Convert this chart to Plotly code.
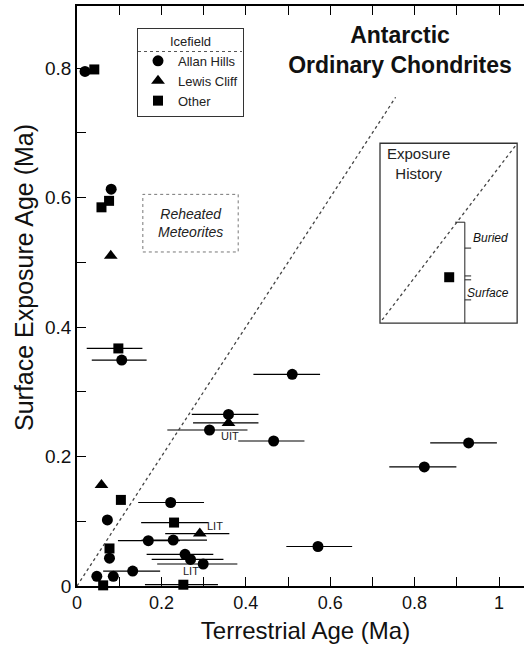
import plotly.graph_objects as go

# ---------------- data ----------------
allan_x = [0.019, 0.081, 0.106, 0.510, 0.359, 0.314, 0.466, 0.928, 0.823, 0.222, 0.072,
           0.169, 0.228, 0.077, 0.256, 0.269, 0.299, 0.047, 0.086, 0.132, 0.571]
allan_y = [0.795, 0.613, 0.349, 0.327, 0.265, 0.241, 0.224, 0.221, 0.184, 0.129, 0.102,
           0.070, 0.071, 0.043, 0.049, 0.041, 0.034, 0.015, 0.015, 0.023, 0.061]
allan_err_plus = [0, 0, 0.059, 0.066, 0.071, 0.090, 0.073, 0.067, 0.076, 0.079, 0,
                  0.075, 0.080, 0, 0.067, 0.078, 0.081, 0, 0, 0.065, 0.081]
allan_err_minus = [0, 0, 0.071, 0.092, 0.087, 0.100, 0.084, 0.091, 0.083, 0.077, 0,
                   0.072, 0.075, 0, 0.091, 0.092, 0.109, 0, 0, 0.070, 0.075]

lewis_x = [0.080, 0.359, 0.058, 0.291]
lewis_y = [0.510, 0.252, 0.156, 0.081]
lewis_err_plus = [0, 0.071, 0, 0.070]
lewis_err_minus = [0, 0.084, 0, 0.082]

other_x = [0.041, 0.076, 0.058, 0.098, 0.104, 0.230, 0.077, 0.062, 0.252]
other_y = [0.798, 0.595, 0.585, 0.367, 0.133, 0.098, 0.058, 0.001, 0.002]
other_err_plus = [0, 0, 0, 0.057, 0, 0.081, 0, 0, 0.082]
other_err_minus = [0, 0, 0, 0.075, 0, 0.078, 0, 0, 0.091]

limit_labels = ["LIT", "UIT", "LIT"]
limit_x = [0.327, 0.363, 0.270]
limit_y = [0.092, 0.232, 0.023]

x_ticks = [0, 0.2, 0.4, 0.6, 0.8, 1]
x_tick_text = ["0", "0.2", "0.4", "0.6", "0.8", "1"]
y_ticks = [0, 0.2, 0.4, 0.6, 0.8]
y_tick_text = ["0", "0.2", "0.4", "0.6", "0.8"]

# inset schematic
inset_sq_x = [0.882]
inset_sq_y = [0.477]

FONT = "Liberation Sans, Arial, Helvetica, sans-serif"
W, H, L = 534, 646, 77
PW = W - L  # plot width in px


def px_to_paper_x(px):
    return (px - L) / PW


def py_to_paper_y(py):
    return (586 - py) / 580


fig = go.Figure()


def err(plus, minus):
    return dict(type="data", symmetric=False, array=plus, arrayminus=minus,
                width=0, thickness=1.2, color="black")


fig.add_trace(go.Scatter(x=allan_x, y=allan_y, mode="markers", name="Allan Hills",
                         marker=dict(symbol="circle", size=11, color="black"),
                         error_x=err(allan_err_plus, allan_err_minus), cliponaxis=False))
fig.add_trace(go.Scatter(x=lewis_x, y=lewis_y, mode="markers", name="Lewis Cliff",
                         marker=dict(symbol="triangle-up", size=12, color="black"),
                         error_x=err(lewis_err_plus, lewis_err_minus), cliponaxis=False))
fig.add_trace(go.Scatter(x=other_x, y=other_y, mode="markers", name="Other",
                         marker=dict(symbol="square", size=10, color="black"),
                         error_x=err(other_err_plus, other_err_minus), cliponaxis=False))
fig.add_trace(go.Scatter(x=inset_sq_x, y=inset_sq_y, mode="markers", showlegend=False,
                         marker=dict(symbol="square", size=10, color="black"),
                         hoverinfo="skip"))

shapes = []
# main diagonal (equal ages)
shapes.append(dict(type="line", xref="x", yref="y", x0=0, y0=0, x1=0.755, y1=0.755,
                   line=dict(color="#444", width=1.3, dash="dot")))
# reheated box
shapes.append(dict(type="rect", xref="x", yref="y", x0=0.156, x1=0.382, y0=0.516, y1=0.605,
                   line=dict(color="#777", width=1, dash="dot")))
# inset box
shapes.append(dict(type="rect", xref="x", yref="y", x0=0.718, x1=1.043, y0=0.406, y1=0.684,
                   line=dict(color="#333", width=1.3)))
shapes.append(dict(type="line", xref="x", yref="y", x0=0.723, y0=0.411, x1=1.040, y1=0.681,
                   line=dict(color="#444", width=1.3, dash="dot")))
shapes.append(dict(type="line", xref="x", yref="y", x0=0.919, y0=0.406, x1=0.919, y1=0.562,
                   line=dict(color="#222", width=1)))
shapes.append(dict(type="line", xref="x", yref="y", x0=0.896, y0=0.562, x1=0.919, y1=0.562,
                   line=dict(color="#222", width=1)))
for yy in [0.522, 0.479, 0.473, 0.442]:
    shapes.append(dict(type="line", xref="x", yref="y", x0=0.919, y0=yy, x1=0.934, y1=yy,
                       line=dict(color="#222", width=1)))
# legend separator (under legend title)
shapes.append(dict(type="line", xref="paper", yref="paper",
                   x0=px_to_paper_x(138), x1=px_to_paper_x(242),
                   y0=py_to_paper_y(51.5), y1=py_to_paper_y(51.5),
                   line=dict(color="#555", width=1, dash="dot")))

annotations = []
annotations.append(dict(x=px_to_paper_x(24), y=0.531, xref="paper", yref="paper", textangle=-90,
                        text="Surface Exposure Age (Ma)", showarrow=False,
                        xanchor="center", yanchor="middle",
                        font=dict(family=FONT, size=25, color="#111")))
annotations.append(dict(x=0.269, y=0.561, xref="x", yref="y", text="<i>Reheated<br>Meteorites</i>",
                        showarrow=False, font=dict(family=FONT, size=14, color="#222")))
annotations.append(dict(x=0.810, y=0.652, xref="x", yref="y", text="Exposure<br>History",
                        showarrow=False, font=dict(family=FONT, size=15, color="#222")))
annotations.append(dict(x=0.979, y=0.537, xref="x", yref="y", text="<i>Buried</i>",
                        showarrow=False, font=dict(family=FONT, size=12, color="#111")))
annotations.append(dict(x=0.975, y=0.453, xref="x", yref="y", text="<i>Surface</i>",
                        showarrow=False, font=dict(family=FONT, size=12, color="#111")))
for t, xx, yy in zip(limit_labels, limit_x, limit_y):
    annotations.append(dict(x=xx, y=yy, xref="x", yref="y", text=t, showarrow=False,
                            font=dict(family=FONT, size=11, color="#222")))

fig.update_layout(
    width=W, height=H,
    margin=dict(l=L, r=0, t=6, b=60, autoexpand=False),
    paper_bgcolor="white", plot_bgcolor="white",
    font=dict(family=FONT, color="black"),
    title=dict(text="<b>Antarctic<br>Ordinary Chondrites</b>", x=400 / W, y=0.933,
               xref="container", yref="container", xanchor="center", yanchor="middle",
               font=dict(family=FONT, size=23, color="#111")),
    showlegend=True,
    legend=dict(x=px_to_paper_x(137), y=py_to_paper_y(28), xanchor="left", yanchor="top",
                bordercolor="#333", borderwidth=1, bgcolor="rgba(255,255,255,0)",
                font=dict(family=FONT, size=13, color="#222"),
                title=dict(text="Icefield", side="top center",
                           font=dict(family=FONT, size=13, color="#222"))),
    shapes=shapes, annotations=annotations,
    xaxis=dict(range=[0, PW / 422], tickvals=x_ticks, ticktext=x_tick_text,
               ticks="inside", ticklen=9, tickwidth=1.2, tickcolor="black",
               minor=dict(dtick=0.1, ticks="inside", ticklen=9, tickwidth=1.2, tickcolor="black"),
               showline=True, linecolor="black", linewidth=1.5, mirror="ticks",
               showgrid=False, zeroline=False,
               tickfont=dict(family=FONT, size=18, color="#111"),
               title=dict(text="Terrestrial Age (Ma)", standoff=10,
                          font=dict(family=FONT, size=24, color="#111"))),
    yaxis=dict(range=[0, 0.896], tickvals=y_ticks, ticktext=y_tick_text,
               ticks="inside", ticklen=9, tickwidth=1.2, tickcolor="black",
               minor=dict(dtick=0.1, ticks="inside", ticklen=9, tickwidth=1.2, tickcolor="black"),
               showline=True, linecolor="black", linewidth=1.5, mirror=False,
               showgrid=False, zeroline=False,
               tickfont=dict(family=FONT, size=19, color="#111")),
)

fig.write_html("out.html", config={"displayModeBar": False},
               post_script="document.body.style.margin='0';document.documentElement.style.overflow='hidden';")
